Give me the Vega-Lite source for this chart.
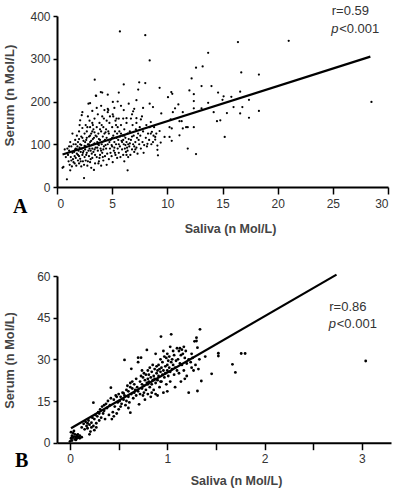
{
  "$schema": "https://vega.github.io/schema/vega-lite/v6.json",
  "padding": {"left": 2, "top": 4, "right": 4, "bottom": 4},
  "spacing": 34,
  "config": {
    "view": {"stroke": null},
    "font": "Liberation Sans",
    "axis": {"grid": false, "domainColor": "#000", "domainWidth": 2, "tickColor": "#000", "tickWidth": 1.5, "tickSize": 4, "labelColor": "#333", "labelFontSize": 12, "labelFont": "Liberation Sans", "titleFont": "Liberation Sans", "titleFontWeight": "bold", "titleColor": "#444", "titleFontSize": 12.5},
    "axisX": {"tickSize": 7, "labelPadding": 4},
    "title": {"font": "Liberation Serif", "fontSize": 20, "fontWeight": "bold", "color": "#000", "orient": "bottom", "anchor": "start", "frame": "bounds"}
  },
  "datasets": {
    "a_pts": [
      {"saliva":0.5,"serum":45},{"saliva":0.58,"serum":47},{"saliva":0.9,"serum":18},{"saliva":0.94,"serum":90},{"saliva":1.0,"serum":75},{"saliva":1.05,"serum":60},{"saliva":1.1,"serum":85},{"saliva":1.15,"serum":52},{"saliva":1.2,"serum":39},{"saliva":1.25,"serum":70},{"saliva":1.3,"serum":95},{"saliva":1.35,"serum":48},{"saliva":1.4,"serum":80},{"saliva":1.45,"serum":65},{"saliva":1.5,"serum":100},{"saliva":1.5,"serum":58},{"saliva":0.8,"serum":70},{"saliva":0.7,"serum":88},{"saliva":1.2,"serum":105},{"saliva":1.4,"serum":125},{"saliva":1.1,"serum":95},{"saliva":1.3,"serum":62},
      {"saliva":1.55,"serum":82},{"saliva":1.6,"serum":72},{"saliva":1.6,"serum":55},{"saliva":1.65,"serum":110},{"saliva":1.7,"serum":90},{"saliva":1.7,"serum":68},{"saliva":1.75,"serum":50},{"saliva":1.8,"serum":120},{"saliva":1.8,"serum":78},{"saliva":1.85,"serum":95},{"saliva":1.9,"serum":62},{"saliva":1.9,"serum":105},{"saliva":1.95,"serum":85},{"saliva":2.0,"serum":130},{"saliva":2.0,"serum":72},{"saliva":2.0,"serum":55},{"saliva":2.05,"serum":92},{"saliva":2.1,"serum":156},{"saliva":2.1,"serum":100},{"saliva":2.1,"serum":66},{"saliva":2.15,"serum":82},{"saliva":2.2,"serum":118},{"saliva":2.2,"serum":48},{"saliva":2.25,"serum":90},{"saliva":2.24,"serum":168},{"saliva":2.3,"serum":75},{"saliva":2.3,"serum":138},{"saliva":2.35,"serum":60},{"saliva":2.4,"serum":108},{"saliva":2.4,"serum":84},{"saliva":2.45,"serum":21},{"saliva":2.45,"serum":52},{"saliva":2.5,"serum":96},{"saliva":2.5,"serum":125},{"saliva":2.5,"serum":70},{"saliva":1.7,"serum":100},{"saliva":1.8,"serum":88},{"saliva":2.0,"serum":112},{"saliva":2.2,"serum":98},{"saliva":2.35,"serum":80},{"saliva":1.9,"serum":75},{"saliva":2.15,"serum":60},{"saliva":2.3,"serum":115},{"saliva":2.05,"serum":145},{"saliva":1.65,"serum":88},{"saliva":2.3,"serum":175},
      {"saliva":2.55,"serum":88},{"saliva":3.42,"serum":251},{"saliva":2.6,"serum":145},{"saliva":2.6,"serum":62},{"saliva":2.65,"serum":110},{"saliva":2.7,"serum":80},{"saliva":2.7,"serum":130},{"saliva":2.75,"serum":50},{"saliva":2.8,"serum":100},{"saliva":2.8,"serum":165},{"saliva":2.85,"serum":195},{"saliva":3.0,"serum":196},{"saliva":2.9,"serum":72},{"saliva":2.9,"serum":118},{"saliva":2.95,"serum":90},{"saliva":3.0,"serum":140},{"saliva":3.0,"serum":58},{"saliva":3.0,"serum":105},{"saliva":3.05,"serum":85},{"saliva":3.1,"serum":125},{"saliva":3.1,"serum":45},{"saliva":3.15,"serum":98},{"saliva":3.2,"serum":150},{"saliva":3.2,"serum":68},{"saliva":3.25,"serum":112},{"saliva":3.3,"serum":82},{"saliva":3.3,"serum":135},{"saliva":3.35,"serum":40},{"saliva":3.4,"serum":102},{"saliva":3.4,"serum":160},{"saliva":3.45,"serum":75},{"saliva":3.5,"serum":120},{"saliva":3.5,"serum":92},{"saliva":3.52,"serum":214},{"saliva":2.6,"serum":95},{"saliva":2.7,"serum":115},{"saliva":2.8,"serum":60},{"saliva":2.85,"serum":85},{"saliva":3.0,"serum":120},{"saliva":3.1,"serum":108},{"saliva":3.2,"serum":90},{"saliva":3.3,"serum":100},{"saliva":3.4,"serum":128},{"saliva":3.45,"serum":55},{"saliva":2.65,"serum":75},{"saliva":2.75,"serum":140},{"saliva":2.95,"serum":155},{"saliva":3.15,"serum":78},{"saliva":3.25,"serum":145},{"saliva":3.35,"serum":115},{"saliva":2.55,"serum":105},{"saliva":3.05,"serum":65},{"saliva":3.2,"serum":130},{"saliva":2.9,"serum":100},{"saliva":3.4,"serum":88},{"saliva":3.2,"serum":178},
      {"saliva":3.55,"serum":213},{"saliva":3.6,"serum":70},{"saliva":3.6,"serum":140},{"saliva":3.65,"serum":105},{"saliva":3.7,"serum":170},{"saliva":3.7,"serum":85},{"saliva":3.75,"serum":125},{"saliva":3.8,"serum":60},{"saliva":3.8,"serum":98},{"saliva":3.85,"serum":150},{"saliva":3.9,"serum":110},{"saliva":3.9,"serum":75},{"saliva":3.95,"serum":90},{"saliva":3.97,"serum":222},{"saliva":4.0,"serum":130},{"saliva":4.0,"serum":50},{"saliva":4.05,"serum":100},{"saliva":4.1,"serum":221},{"saliva":4.1,"serum":165},{"saliva":4.1,"serum":80},{"saliva":4.15,"serum":118},{"saliva":4.2,"serum":140},{"saliva":4.2,"serum":62},{"saliva":4.25,"serum":95},{"saliva":4.3,"serum":108},{"saliva":4.3,"serum":180},{"saliva":4.35,"serum":72},{"saliva":4.4,"serum":128},{"saliva":4.6,"serum":216},{"saliva":4.45,"serum":90},{"saliva":4.5,"serum":155},{"saliva":4.5,"serum":52},{"saliva":4.5,"serum":115},{"saliva":3.6,"serum":118},{"saliva":3.7,"serum":100},{"saliva":3.8,"serum":112},{"saliva":3.9,"serum":135},{"saliva":4.0,"serum":85},{"saliva":4.1,"serum":105},{"saliva":4.2,"serum":88},{"saliva":4.3,"serum":125},{"saliva":4.4,"serum":98},{"saliva":3.65,"serum":92},{"saliva":3.85,"serum":68},{"saliva":4.05,"serum":145},{"saliva":4.25,"serum":160},{"saliva":4.35,"serum":110},{"saliva":3.75,"serum":55},{"saliva":4.15,"serum":70},{"saliva":4.45,"serum":135},{"saliva":3.6,"serum":185},{"saliva":4.0,"serum":190},
      {"saliva":4.55,"serum":78},{"saliva":4.6,"serum":175},{"saliva":4.6,"serum":100},{"saliva":4.7,"serum":125},{"saliva":4.7,"serum":65},{"saliva":4.75,"serum":150},{"saliva":4.8,"serum":90},{"saliva":4.85,"serum":110},{"saliva":4.6,"serum":183},{"saliva":4.65,"serum":180},{"saliva":4.95,"serum":72},{"saliva":5.0,"serum":140},{"saliva":5.0,"serum":95},{"saliva":5.05,"serum":58},{"saliva":5.1,"serum":120},{"saliva":5.1,"serum":165},{"saliva":5.15,"serum":85},{"saliva":5.2,"serum":105},{"saliva":5.25,"serum":130},{"saliva":5.3,"serum":75},{"saliva":5.3,"serum":155},{"saliva":5.35,"serum":100},{"saliva":5.4,"serum":115},{"saliva":5.45,"serum":68},{"saliva":5.06,"serum":199},{"saliva":5.5,"serum":200},{"saliva":5.5,"serum":90},{"saliva":5.5,"serum":140},{"saliva":4.65,"serum":130},{"saliva":4.85,"serum":80},{"saliva":5.0,"serum":115},{"saliva":5.2,"serum":92},{"saliva":5.4,"serum":160},{"saliva":4.75,"serum":105},{"saliva":5.05,"serum":170},{"saliva":5.25,"serum":80},{"saliva":5.45,"serum":125},{"saliva":4.95,"serum":98},{"saliva":5.35,"serum":145},{"saliva":5.2,"serum":185},{"saliva":4.8,"serum":165},
      {"saliva":5.55,"serum":110},{"saliva":5.6,"serum":221},{"saliva":5.6,"serum":160},{"saliva":5.6,"serum":80},{"saliva":5.65,"serum":130},{"saliva":5.7,"serum":95},{"saliva":5.7,"serum":364},{"saliva":5.75,"serum":70},{"saliva":5.8,"serum":145},{"saliva":5.85,"serum":108},{"saliva":6.05,"serum":240},{"saliva":5.9,"serum":88},{"saliva":5.95,"serum":120},{"saliva":6.0,"serum":160},{"saliva":6.0,"serum":75},{"saliva":6.05,"serum":100},{"saliva":6.1,"serum":135},{"saliva":6.1,"serum":60},{"saliva":6.15,"serum":90},{"saliva":6.2,"serum":115},{"saliva":6.25,"serum":82},{"saliva":6.3,"serum":150},{"saliva":6.3,"serum":105},{"saliva":6.35,"serum":92},{"saliva":6.4,"serum":39},{"saliva":6.4,"serum":125},{"saliva":6.45,"serum":70},{"saliva":6.5,"serum":112},{"saliva":6.3,"serum":161},{"saliva":5.6,"serum":100},{"saliva":5.8,"serum":125},{"saliva":6.0,"serum":110},{"saliva":6.2,"serum":98},{"saliva":6.4,"serum":85},{"saliva":5.7,"serum":118},{"saliva":5.9,"serum":105},{"saliva":6.1,"serum":120},{"saliva":6.3,"serum":75},{"saliva":6.45,"serum":100},{"saliva":6.05,"serum":180},{"saliva":5.8,"serum":190},{"saliva":6.5,"serum":195},
      {"saliva":6.55,"serum":95},{"saliva":6.6,"serum":130},{"saliva":6.65,"serum":75},{"saliva":6.7,"serum":110},{"saliva":6.9,"serum":177},{"saliva":6.8,"serum":88},{"saliva":6.85,"serum":145},{"saliva":6.9,"serum":100},{"saliva":6.95,"serum":120},{"saliva":7.2,"serum":203},{"saliva":7.0,"serum":82},{"saliva":7.2,"serum":161},{"saliva":7.1,"serum":105},{"saliva":7.15,"serum":135},{"saliva":7.2,"serum":92},{"saliva":7.25,"serum":115},{"saliva":7.0,"serum":183},{"saliva":7.3,"serum":78},{"saliva":7.35,"serum":125},{"saliva":7.36,"serum":228},{"saliva":7.45,"serum":245},{"saliva":7.45,"serum":100},{"saliva":7.5,"serum":140},{"saliva":6.6,"serum":102},{"saliva":6.8,"serum":118},{"saliva":7.0,"serum":95},{"saliva":7.2,"serum":150},{"saliva":7.4,"serum":110},{"saliva":6.7,"serum":160},{"saliva":7.1,"serum":88},{"saliva":6.8,"serum":170},
      {"saliva":7.55,"serum":120},{"saliva":7.6,"serum":90},{"saliva":7.7,"serum":165},{"saliva":7.75,"serum":105},{"saliva":7.8,"serum":130},{"saliva":7.9,"serum":98},{"saliva":8.0,"serum":355},{"saliva":8.0,"serum":243},{"saliva":8.05,"serum":115},{"saliva":8.1,"serum":145},{"saliva":8.2,"serum":101},{"saliva":8.25,"serum":125},{"saliva":8.4,"serum":195},{"saliva":8.35,"serum":110},{"saliva":8.5,"serum":152},{"saliva":8.4,"serum":140},{"saliva":8.4,"serum":296},{"saliva":8.5,"serum":125},{"saliva":8.6,"serum":129},{"saliva":8.7,"serum":187},{"saliva":8.7,"serum":105},{"saliva":8.8,"serum":140},{"saliva":8.9,"serum":117},{"saliva":8.9,"serum":111},{"saliva":9.0,"serum":125},{"saliva":7.6,"serum":158},{"saliva":7.85,"serum":80},{"saliva":8.15,"serum":95},{"saliva":8.55,"serum":100},{"saliva":8.75,"serum":120},{"saliva":7.8,"serum":185},
      {"saliva":9.1,"serum":97},{"saliva":9.1,"serum":87},{"saliva":9.15,"serum":74},{"saliva":9.3,"serum":131},{"saliva":9.3,"serum":232},{"saliva":9.45,"serum":172},{"saliva":9.4,"serum":104},{"saliva":9.75,"serum":117},{"saliva":10.06,"serum":210},{"saliva":10.3,"serum":158},{"saliva":10.2,"serum":140},{"saliva":10.4,"serum":137},{"saliva":10.2,"serum":117},{"saliva":10.4,"serum":108},{"saliva":10.36,"serum":222},{"saliva":10.45,"serum":218},{"saliva":10.5,"serum":175},{"saliva":10.7,"serum":184},{"saliva":11.0,"serum":193},{"saliva":11.1,"serum":154},{"saliva":11.1,"serum":121},{"saliva":11.3,"serum":154},{"saliva":11.4,"serum":137},{"saliva":11.4,"serum":175},{"saliva":11.7,"serum":140},
      {"saliva":12.0,"serum":226},{"saliva":12.2,"serum":254},{"saliva":12.4,"serum":217},{"saliva":12.4,"serum":201},{"saliva":12.4,"serum":184},{"saliva":12.4,"serum":140},{"saliva":11.85,"serum":140},{"saliva":11.85,"serum":90},{"saliva":12.6,"serum":279},{"saliva":12.6,"serum":77},{"saliva":13.1,"serum":236},{"saliva":13.1,"serum":184},{"saliva":13.2,"serum":282},{"saliva":13.7,"serum":314},{"saliva":13.7,"serum":197},{"saliva":14.0,"serum":236},{"saliva":14.2,"serum":175},{"saliva":14.5,"serum":154},{"saliva":14.6,"serum":221},{"saliva":14.8,"serum":156},{"saliva":15.0,"serum":204},{"saliva":15.1,"serum":212},{"saliva":15.2,"serum":117},{"saliva":15.4,"serum":173},{"saliva":15.8,"serum":211},{"saliva":16.0,"serum":187},{"saliva":16.4,"serum":339},{"saliva":16.6,"serum":223},{"saliva":16.6,"serum":172},{"saliva":16.7,"serum":268},{"saliva":16.8,"serum":187},{"saliva":17.4,"serum":204},{"saliva":17.4,"serum":162},{"saliva":18.3,"serum":263},{"saliva":18.3,"serum":178},{"saliva":21.0,"serum":342},{"saliva":28.5,"serum":199}
    ],
    "a_fit": [{"saliva":0.5,"serum":76},{"saliva":28.4,"serum":305}],
    "a_note": [
      {"saliva":24.9,"serum":402.5,"label":"r=0.59","part":"r"},
      {"saliva":24.85,"serum":361,"label":"p","part":"p"},
      {"saliva":24.85,"serum":361,"label":"<0.001","part":"v"}
    ],
    "b_pts": [
      {"saliva":0.0,"serum":0.5},{"saliva":0.01,"serum":1.5},{"saliva":0.02,"serum":2.5},{"saliva":0.02,"serum":0.8},{"saliva":0.03,"serum":3.5},{"saliva":0.03,"serum":1.8},{"saliva":0.04,"serum":2.2},{"saliva":0.05,"serum":1.2},{"saliva":0.05,"serum":3.0},{"saliva":0.06,"serum":2.0},{"saliva":0.07,"serum":2.6},{"saliva":0.07,"serum":1.5},{"saliva":0.08,"serum":2.2},{"saliva":0.09,"serum":1.8},{"saliva":0.1,"serum":2.5},{"saliva":0.1,"serum":1.6},{"saliva":0.01,"serum":3.8},{"saliva":0.04,"serum":4.2},{"saliva":0.06,"serum":1.0},{"saliva":0.12,"serum":2.0},{"saliva":0.02,"serum":2.0},{"saliva":0.08,"serum":3.0},
      {"saliva":0.12,"serum":5.5},{"saliva":0.14,"serum":6.8},{"saliva":0.15,"serum":4.8},{"saliva":0.16,"serum":7.5},{"saliva":0.17,"serum":6.0},{"saliva":0.18,"serum":5.2},{"saliva":0.19,"serum":8.0},{"saliva":0.2,"serum":3.0},{"saliva":0.2,"serum":6.5},{"saliva":0.21,"serum":4.0},{"saliva":0.22,"serum":7.2},{"saliva":0.22,"serum":5.5},{"saliva":0.23,"serum":9.0},{"saliva":0.24,"serum":14.4},{"saliva":0.24,"serum":6.0},{"saliva":0.25,"serum":4.5},{"saliva":0.25,"serum":8.5},{"saliva":0.26,"serum":10.0},{"saliva":0.27,"serum":7.0},{"saliva":0.28,"serum":9.5},{"saliva":0.29,"serum":11.0},{"saliva":0.3,"serum":8.0},{"saliva":0.3,"serum":10.5},{"saliva":0.18,"serum":7.0},{"saliva":0.27,"serum":5.5},
      {"saliva":0.31,"serum":12.0},{"saliva":0.32,"serum":9.0},{"saliva":0.33,"serum":13.0},{"saliva":0.34,"serum":10.5},{"saliva":0.35,"serum":11.5},{"saliva":0.36,"serum":8.5},{"saliva":0.37,"serum":14.0},{"saliva":0.38,"serum":12.5},{"saliva":0.39,"serum":15.0},{"saliva":0.4,"serum":10.0},{"saliva":0.41,"serum":13.5},{"saliva":0.42,"serum":19.8},{"saliva":0.42,"serum":16.0},{"saliva":0.43,"serum":8.5},{"saliva":0.44,"serum":11.0},{"saliva":0.45,"serum":15.5},{"saliva":0.46,"serum":13.0},{"saliva":0.47,"serum":17.0},{"saliva":0.48,"serum":10.5},{"saliva":0.48,"serum":16.5},{"saliva":0.49,"serum":14.5},{"saliva":0.5,"serum":12.0},{"saliva":0.5,"serum":17.5},{"saliva":0.35,"serum":13.5},{"saliva":0.45,"serum":9.5},
      {"saliva":0.51,"serum":15.0},{"saliva":0.52,"serum":16.5},{"saliva":0.53,"serum":14.0},{"saliva":0.54,"serum":18.0},{"saliva":0.55,"serum":15.5},{"saliva":0.56,"serum":29.8},{"saliva":0.56,"serum":17.0},{"saliva":0.57,"serum":13.5},{"saliva":0.58,"serum":19.0},{"saliva":0.58,"serum":15.0},{"saliva":0.59,"serum":20.5},{"saliva":0.6,"serum":16.5},{"saliva":0.6,"serum":18.5},{"saliva":0.61,"serum":14.5},{"saliva":0.62,"serum":20.0},{"saliva":0.62,"serum":10.8},{"saliva":0.63,"serum":26.6},{"saliva":0.63,"serum":17.5},{"saliva":0.64,"serum":19.5},{"saliva":0.64,"serum":22.0},{"saliva":0.65,"serum":16.0},{"saliva":0.66,"serum":18.0},{"saliva":0.66,"serum":21.0},{"saliva":0.67,"serum":19.0},{"saliva":0.68,"serum":23.0},{"saliva":0.68,"serum":17.0},{"saliva":0.69,"serum":20.0},{"saliva":0.7,"serum":29.0},{"saliva":0.7,"serum":30.6},{"saliva":0.7,"serum":18.5},{"saliva":0.71,"serum":13.8},{"saliva":0.62,"serum":21.5},{"saliva":0.55,"serum":17.8},{"saliva":0.52,"serum":13.0},{"saliva":0.6,"serum":12.5},
      {"saliva":0.72,"serum":22.0},{"saliva":0.72,"serum":17.5},{"saliva":0.73,"serum":30.6},{"saliva":0.73,"serum":24.0},{"saliva":0.74,"serum":19.5},{"saliva":0.74,"serum":21.0},{"saliva":0.75,"serum":23.5},{"saliva":0.75,"serum":17.0},{"saliva":0.76,"serum":25.0},{"saliva":0.76,"serum":20.5},{"saliva":0.77,"serum":22.5},{"saliva":0.77,"serum":15.5},{"saliva":0.78,"serum":24.5},{"saliva":0.78,"serum":19.0},{"saliva":0.79,"serum":33.4},{"saliva":0.79,"serum":21.5},{"saliva":0.8,"serum":23.0},{"saliva":0.8,"serum":26.0},{"saliva":0.8,"serum":17.5},{"saliva":0.81,"serum":22.0},{"saliva":0.81,"serum":24.5},{"saliva":0.82,"serum":20.0},{"saliva":0.82,"serum":27.0},{"saliva":0.83,"serum":23.5},{"saliva":0.83,"serum":16.5},{"saliva":0.84,"serum":25.5},{"saliva":0.84,"serum":21.0},{"saliva":0.85,"serum":22.5},{"saliva":0.85,"serum":28.0},{"saliva":0.86,"serum":24.0},{"saliva":0.86,"serum":19.0},{"saliva":0.87,"serum":26.5},{"saliva":0.87,"serum":23.0},{"saliva":0.88,"serum":21.5},{"saliva":0.88,"serum":32.0},{"saliva":0.89,"serum":25.0},{"saliva":0.89,"serum":27.5},{"saliva":0.9,"serum":22.5},{"saliva":0.9,"serum":17.0},{"saliva":0.76,"serum":18.0},{"saliva":0.84,"serum":18.0},{"saliva":0.88,"serum":17.5},{"saliva":0.8,"serum":21.0},{"saliva":0.74,"serum":26.0},{"saliva":0.9,"serum":26.0},
      {"saliva":0.91,"serum":24.0},{"saliva":0.91,"serum":28.0},{"saliva":0.92,"serum":26.5},{"saliva":0.92,"serum":20.0},{"saliva":0.93,"serum":25.5},{"saliva":0.93,"serum":30.0},{"saliva":0.935,"serum":38.2},{"saliva":0.94,"serum":27.0},{"saliva":0.94,"serum":22.0},{"saliva":0.95,"serum":24.5},{"saliva":0.95,"serum":29.0},{"saliva":0.96,"serum":26.0},{"saliva":0.96,"serum":18.0},{"saliva":0.97,"serum":31.0},{"saliva":0.97,"serum":23.5},{"saliva":0.98,"serum":27.5},{"saliva":0.98,"serum":25.0},{"saliva":0.99,"serum":30.5},{"saliva":0.99,"serum":21.0},{"saliva":1.0,"serum":28.0},{"saliva":1.0,"serum":26.0},{"saliva":1.0,"serum":32.0},{"saliva":1.01,"serum":24.0},{"saliva":1.01,"serum":29.5},{"saliva":1.02,"serum":27.0},{"saliva":1.02,"serum":31.0},{"saliva":1.03,"serum":25.5},{"saliva":1.03,"serum":22.0},{"saliva":1.04,"serum":39.0},{"saliva":1.04,"serum":29.0},{"saliva":1.05,"serum":30.0},{"saliva":1.05,"serum":26.5},{"saliva":1.06,"serum":28.0},{"saliva":1.06,"serum":33.0},{"saliva":1.07,"serum":24.5},{"saliva":1.07,"serum":31.5},{"saliva":1.08,"serum":27.0},{"saliva":1.08,"serum":20.0},{"saliva":1.09,"serum":29.5},{"saliva":1.1,"serum":34.0},{"saliva":1.1,"serum":26.0},{"saliva":0.96,"serum":33.0},{"saliva":1.0,"serum":18.5},{"saliva":1.03,"serum":34.5},{"saliva":0.93,"serum":22.0},
      {"saliva":1.11,"serum":30.0},{"saliva":1.12,"serum":33.0},{"saliva":1.12,"serum":25.0},{"saliva":1.13,"serum":34.0},{"saliva":1.14,"serum":31.5},{"saliva":1.14,"serum":22.0},{"saliva":1.15,"serum":33.5},{"saliva":1.15,"serum":28.0},{"saliva":1.16,"serum":32.0},{"saliva":1.17,"serum":34.5},{"saliva":1.17,"serum":26.0},{"saliva":1.18,"serum":30.5},{"saliva":1.19,"serum":33.0},{"saliva":1.2,"serum":28.5},{"saliva":1.2,"serum":24.0},{"saliva":1.22,"serum":18.0},{"saliva":1.22,"serum":30.0},{"saliva":1.24,"serum":29.0},{"saliva":1.25,"serum":27.0},{"saliva":1.26,"serum":30.5},{"saliva":1.27,"serum":26.0},{"saliva":1.28,"serum":36.5},{"saliva":1.29,"serum":28.0},{"saliva":1.3,"serum":37.8},{"saliva":1.3,"serum":36.6},{"saliva":1.31,"serum":34.2},{"saliva":1.31,"serum":18.6},{"saliva":1.32,"serum":26.5},{"saliva":1.33,"serum":30.0},{"saliva":1.336,"serum":40.8},{"saliva":1.35,"serum":22.2},{"saliva":1.39,"serum":31.0},{"saliva":1.18,"serum":23.0},{"saliva":1.25,"serum":32.0},{"saliva":1.13,"serum":28.5},
      {"saliva":1.456,"serum":24.8},{"saliva":1.525,"serum":32.2},{"saliva":1.525,"serum":31.2},{"saliva":1.67,"serum":28.2},{"saliva":1.70,"serum":25.3},{"saliva":1.76,"serum":32.1},{"saliva":1.80,"serum":32.1},{"saliva":3.04,"serum":29.4}
    ],
    "b_fit": [{"saliva":0.01,"serum":5.2},{"saliva":2.74,"serum":60.5}],
    "b_note": [
      {"saliva":2.665,"serum":47.4,"label":"r=0.86","part":"r"},
      {"saliva":2.66,"serum":41.2,"label":"p","part":"p"},
      {"saliva":2.66,"serum":41.2,"label":"<0.001","part":"v"}
    ]
  },
  "vconcat": [
    {
      "width": 331,
      "height": 171,
      "title": {"text": "A", "offset": -38, "dx": 11},
      "encoding": {
        "x": {"field": "saliva", "type": "quantitative", "scale": {"domain": [0, 30], "nice": false, "zero": false},
              "axis": {"title": "Saliva (n Mol/L)", "values": [0,5,10,15,20,25,30], "titleX": 173, "titleY": 45.8, "titleBaseline": "alphabetic", "titleAlign": "center"}},
        "y": {"field": "serum", "type": "quantitative", "scale": {"domain": [0, 400], "nice": false, "zero": false},
              "axis": {"title": "Serum (n Mol/L)", "values": [0,100,200,300,400], "labelPadding": 3, "titleFontSize": 13.5, "titleX": -44, "titleY": 79, "titleBaseline": "alphabetic", "titleAlign": "center", "titleAngle": -90}}
      },
      "layer": [
        {"data": {"name": "a_pts"}, "mark": {"type": "circle", "size": 5, "color": "#000", "opacity": 1}},
        {"data": {"name": "a_fit"}, "mark": {"type": "line", "color": "#000", "strokeWidth": 2.2}},
        {"data": {"name": "a_note"}, "transform": [{"filter": "datum.part == 'r'"}], "mark": {"type": "text", "align": "left", "baseline": "alphabetic", "fontSize": 13, "color": "#333"}, "encoding": {"text": {"field": "label"}}},
        {"data": {"name": "a_note"}, "transform": [{"filter": "datum.part == 'p'"}], "mark": {"type": "text", "align": "left", "baseline": "alphabetic", "fontSize": 13, "fontStyle": "italic", "color": "#333"}, "encoding": {"text": {"field": "label"}}},
        {"data": {"name": "a_note"}, "transform": [{"filter": "datum.part == 'v'"}], "mark": {"type": "text", "align": "left", "baseline": "alphabetic", "fontSize": 13, "dx": 8, "color": "#333"}, "encoding": {"text": {"field": "label"}}}
      ]
    },
    {
      "width": 334,
      "height": 166.7,
      "title": {"text": "B", "offset": -36, "dx": 12},
      "encoding": {
        "x": {"field": "saliva", "type": "quantitative", "scale": {"domain": [-0.134, 3.3], "nice": false, "zero": false},
              "axis": {"title": "Saliva (n Mol/L)", "values": [0,0.5,1,1.5,2,2.5,3], "labelExpr": "datum.value % 1 == 0 ? format(datum.value, 'd') : ''", "titleX": 179, "titleY": 41.8, "titleBaseline": "alphabetic", "titleAlign": "center"}},
        "y": {"field": "serum", "type": "quantitative", "scale": {"domain": [0, 60], "nice": false, "zero": false},
              "axis": {"title": "Serum (n Mol/L)", "values": [0,15,30,45,60], "labelPadding": 3, "titleFontSize": 12.8, "titleX": -44, "titleY": 84, "titleBaseline": "alphabetic", "titleAlign": "center", "titleAngle": -90}}
      },
      "layer": [
        {"data": {"name": "b_pts"}, "mark": {"type": "circle", "size": 8, "color": "#000", "opacity": 1}},
        {"data": {"name": "b_fit"}, "mark": {"type": "line", "color": "#000", "strokeWidth": 2.2}},
        {"data": {"name": "b_note"}, "transform": [{"filter": "datum.part == 'r'"}], "mark": {"type": "text", "align": "left", "baseline": "alphabetic", "fontSize": 13, "color": "#333"}, "encoding": {"text": {"field": "label"}}},
        {"data": {"name": "b_note"}, "transform": [{"filter": "datum.part == 'p'"}], "mark": {"type": "text", "align": "left", "baseline": "alphabetic", "fontSize": 13, "fontStyle": "italic", "color": "#333"}, "encoding": {"text": {"field": "label"}}},
        {"data": {"name": "b_note"}, "transform": [{"filter": "datum.part == 'v'"}], "mark": {"type": "text", "align": "left", "baseline": "alphabetic", "fontSize": 13, "dx": 8, "color": "#333"}, "encoding": {"text": {"field": "label"}}}
      ]
    }
  ]
}
